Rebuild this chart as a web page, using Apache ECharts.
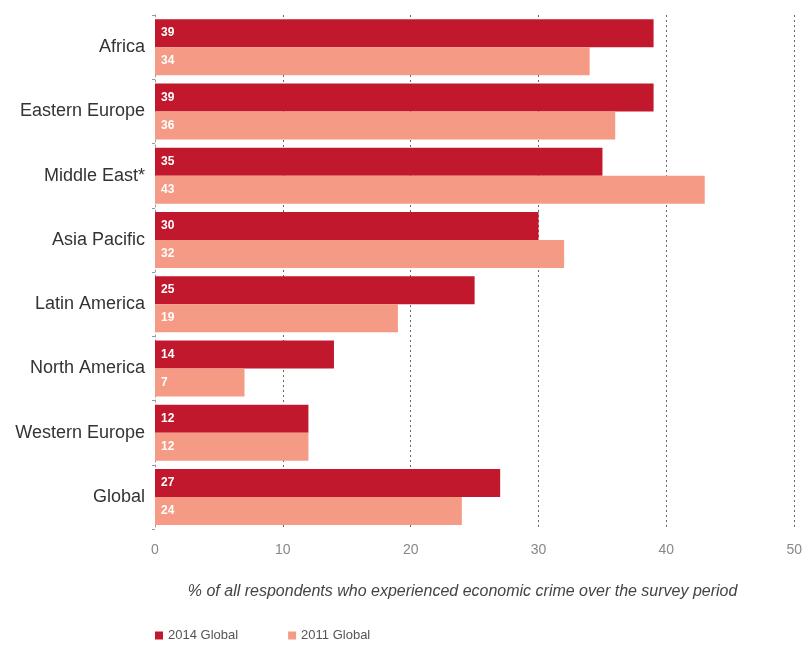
<!DOCTYPE html>
<html>
<head>
<meta charset="utf-8">
<script src="https://cdn.jsdelivr.net/npm/echarts@6/dist/echarts.min.js"></script>
<style>
  html, body { margin: 0; padding: 0; background: #fff; }
  #chart { width: 805px; height: 648px; }
</style>
</head>
<body>
<div id="chart"></div>
<script>
// Regions, top to bottom
const regions = ['Africa', 'Eastern Europe', 'Middle East*', 'Asia Pacific', 'Latin America', 'North America', 'Western Europe', 'Global'];
// Share of respondents reporting economic crime (%)
const values2014 = [39, 39, 35, 30, 25, 14, 12, 27];
const values2011 = [34, 36, 43, 32, 19, 7, 12, 24];
const xTicks = [0, 10, 20, 30, 40, 50];
const seriesNames = ['2014 Global', '2011 Global'];
const axisTitle = '% of all respondents who experienced economic crime over the survey period';

const chart = echarts.init(document.getElementById('chart'));

const barLabel = {
  show: true,
  position: 'insideLeft',
  distance: 6,
  color: '#fff',
  fontWeight: 'bold',
  fontSize: 12,
  fontFamily: 'Liberation Sans, Arial, sans-serif'
};

chart.setOption({
  animation: false,
  textStyle: { fontFamily: 'Liberation Sans, Arial, sans-serif' },
  grid: { left: 155, right: 10, top: 15, bottom: 119 },
  legend: {
    data: seriesNames,
    left: 150,
    bottom: 1,
    icon: 'rect',
    itemWidth: 8,
    itemHeight: 8,
    itemGap: 50,
    textStyle: { color: '#555', fontSize: 13 }
  },
  xAxis: {
    type: 'value',
    min: xTicks[0],
    max: xTicks[xTicks.length - 1],
    interval: 10,
    name: axisTitle,
    nameLocation: 'middle',
    nameGap: 55,
    nameTextStyle: { color: '#444', fontSize: 16, fontStyle: 'italic', padding: [0, 24, 0, 0] },
    axisLine: { show: false },
    axisTick: { show: false },
    axisLabel: { color: '#888', fontSize: 14, margin: 14 },
    splitLine: { show: true, lineStyle: { color: '#666', type: [2, 3], width: 1 } }
  },
  yAxis: {
    type: 'category',
    data: regions,
    inverse: true,
    axisLine: { show: true, lineStyle: { color: '#999', type: [2, 3] } },
    axisTick: { show: true, length: 3, lineStyle: { color: '#999' } },
    axisLabel: { color: '#333', fontSize: 18, margin: 10 }
  },
  series: [
    {
      name: seriesNames[0],
      type: 'bar',
      data: values2014,
      itemStyle: { color: '#C1182D' },
      barWidth: 28,
      barGap: '0%',
      label: barLabel
    },
    {
      name: seriesNames[1],
      type: 'bar',
      data: values2011,
      itemStyle: { color: '#F59A84' },
      barWidth: 28,
      label: barLabel
    }
  ]
});
</script>
</body>
</html>
